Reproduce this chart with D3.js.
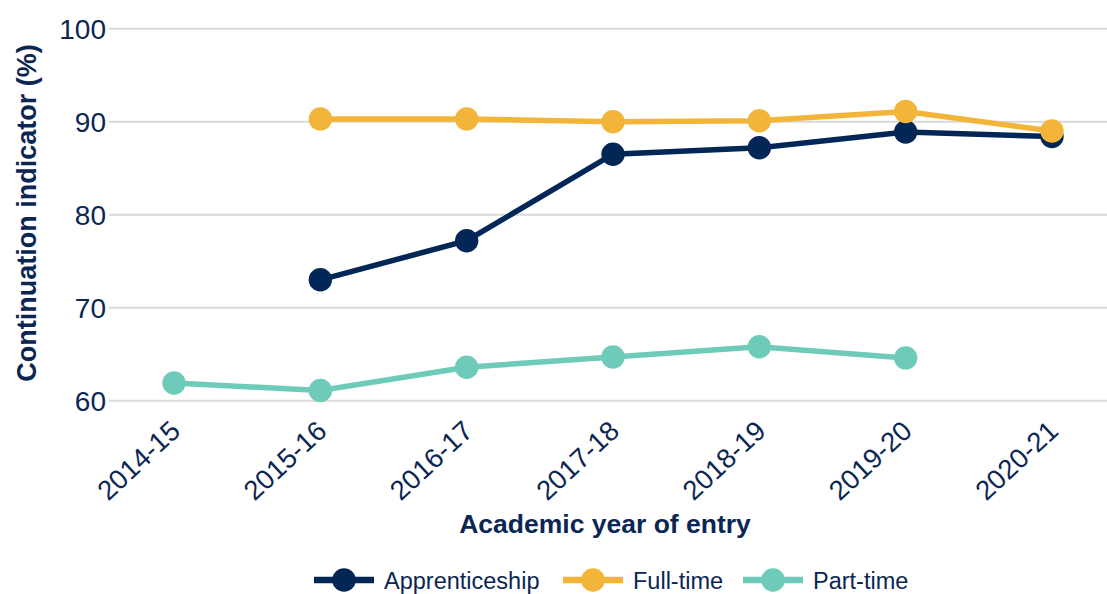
<!DOCTYPE html>
<head>
    <meta charset="utf-8">
    <script src="https://d3js.org/d3.v7.min.js"></script>
    <style>
        body {
            margin: 0;
            font-family: "Liberation Sans", Arial, sans-serif;
            background: #fff;
        }
        .grid line {
            stroke: #d9d9d9;
            stroke-width: 2px;
        }
        .tick-label {
            fill: #0b2653;
            font-size: 28px;
        }
        .axis-title {
            fill: #0b2653;
            font-weight: bold;
        }
        .legend text {
            fill: #0b2653;
            font-size: 23.5px;
        }
    </style>
</head>

<body>
<div id="vis"></div>

<script>
    var width = 1107,
        height = 594;

    // data
    var years = ["2014-15", "2015-16", "2016-17", "2017-18", "2018-19", "2019-20", "2020-21"];
    var yTicks = [60, 70, 80, 90, 100];

    var apprenticeship = [null, 73.0, 77.2, 86.5, 87.2, 88.9, 88.4];
    var fullTime       = [null, 90.3, 90.3, 90.0, 90.1, 91.1, 89.0];
    var partTime       = [61.9, 61.1, 63.6, 64.7, 65.8, 64.6, null];

    var seriesNames  = ["Apprenticeship", "Full-time", "Part-time"];
    var seriesColors = ["#022756", "#f2b53a", "#6ecbb9"];

    var series = [apprenticeship, fullTime, partTime].map(function(vals, i) {
        return {
            name: seriesNames[i],
            color: seriesColors[i],
            values: vals.map(function(v, j) { return {year: years[j], value: v}; })
                        .filter(function(d) { return d.value != null; })
        };
    });

    var x = d3.scalePoint()
        .domain(years)
        .range([174, 1052]);

    var y = d3.scaleLinear()
        .domain([60, 100])
        .range([400.7, 28.7]);

    var svg = d3.select("#vis")
        .append("svg")
        .attr("width", width)
        .attr("height", height);

    ////////// grid + axes //////////

    svg.append("g")
        .attr("class", "grid")
        .selectAll("line")
        .data(yTicks)
        .enter()
        .append("line")
        .attr("x1", 109)
        .attr("x2", width)
        .attr("y1", function(d) { return y(d); })
        .attr("y2", function(d) { return y(d); });

    svg.append("g")
        .selectAll("text")
        .data(yTicks)
        .enter()
        .append("text")
        .attr("class", "tick-label")
        .attr("x", 106)
        .attr("y", function(d) { return y(d); })
        .attr("dy", "0.36em")
        .attr("text-anchor", "end")
        .text(function(d) { return d; });

    svg.append("g")
        .selectAll("text")
        .data(years)
        .enter()
        .append("text")
        .attr("class", "tick-label")
        .attr("text-anchor", "end")
        .style("font-size", "27.5px")
        .attr("transform", function(d) {
            return "translate(" + (x(d) + 8) + ",433) rotate(-43)";
        })
        .text(function(d) { return d; });

    svg.append("text")
        .attr("class", "axis-title")
        .attr("x", 605)
        .attr("y", 533)
        .attr("text-anchor", "middle")
        .style("font-size", "26.5px")
        .text("Academic year of entry");

    svg.append("text")
        .attr("class", "axis-title")
        .attr("transform", "translate(36,213) rotate(-90)")
        .attr("text-anchor", "middle")
        .style("font-size", "27px")
        .text("Continuation indicator (%)");

    ////////// lines + markers //////////

    var line = d3.line()
        .x(function(d) { return x(d.year); })
        .y(function(d) { return y(d.value); });

    var g = svg.selectAll(".series")
        .data(series)
        .enter()
        .append("g")
        .attr("class", "series");

    g.append("path")
        .attr("d", function(d) { return line(d.values); })
        .attr("fill", "none")
        .attr("stroke", function(d) { return d.color; })
        .attr("stroke-width", 5.5);

    g.selectAll("circle")
        .data(function(d) { return d.values.map(function(v) { v.color = d.color; return v; }); })
        .enter()
        .append("circle")
        .attr("cx", function(d) { return x(d.year); })
        .attr("cy", function(d) { return y(d.value); })
        .attr("r", 11.7)
        .attr("fill", function(d) { return d.color; });

    ////////// legend //////////

    var legendX = [314, 563, 743];

    var leg = svg.append("g")
        .attr("class", "legend")
        .selectAll("g")
        .data(series)
        .enter()
        .append("g")
        .attr("transform", function(d, i) { return "translate(" + legendX[i] + ",580)"; });

    leg.append("line")
        .attr("x1", 0)
        .attr("x2", 60)
        .attr("stroke", function(d) { return d.color; })
        .attr("stroke-width", 6.5);

    leg.append("circle")
        .attr("cx", 30)
        .attr("r", 11.8)
        .attr("fill", function(d) { return d.color; });

    leg.append("text")
        .attr("x", 70)
        .attr("y", 9)
        .text(function(d) { return d.name; });
</script>
</body>
